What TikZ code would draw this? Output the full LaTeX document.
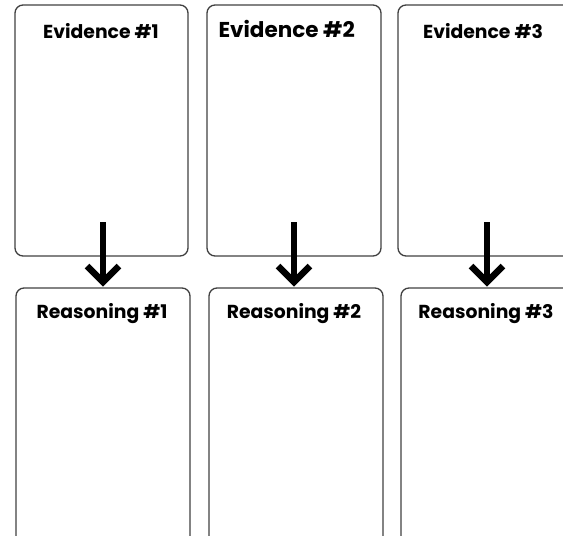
\documentclass[tikz,border=0pt]{standalone}
\usepackage{fontspec}
\setmainfont{Poppins}
\begin{document}
\begin{tikzpicture}[x=1pt,y=-1pt,
  card/.style={draw=black!75, line width=1.3pt, rounded corners=8pt},
  ttl/.style={font=\fontsize{18.8}{22}\selectfont\bfseries, anchor=center},
  bigarrow/.style={line width=6.5pt, black},
  chev/.style={line width=6.5pt, black, miter limit=10}]
\useasboundingbox (0,0) rectangle (563,536);
\clip (0,0) rectangle (563,536);
% top cards
\draw[card] (15,5) rectangle (188,256);
\draw[card] (207,5) rectangle (381,256);
\draw[card] (398,5) rectangle (580,256);
% bottom cards
\draw[card] (16,288) rectangle (190,560);
\draw[card] (209,288) rectangle (383,560);
\draw[card] (401,288) rectangle (580,560);
% titles
\node[ttl] (e1) at (101,31) {Evidence \#1};
\node[ttl, font=\fontsize{21.5}{24}\selectfont\bfseries, anchor=west] (e2) at (215,29) {Evidence \#2};
\node[ttl] (e3) at (483,31) {Evidence \#3};
\node[ttl] (r1) at (102,314) {Reasoning \#1};
\node[ttl] (r2) at (294,314) {Reasoning \#2};
\node[ttl] (r3) at (486,314) {Reasoning \#3};
% arrows
\foreach \i/\x in {1/103,2/294,3/487}{
  \coordinate (s\i) at (\x,222);
  \coordinate (t\i) at (\x,282);
  \draw[bigarrow] (s\i) -- (t\i);
  \draw[chev] ([xshift=-16pt,yshift=16pt]t\i) -- (t\i) -- ([xshift=16pt,yshift=16pt]t\i);
}
\end{tikzpicture}
\end{document}
